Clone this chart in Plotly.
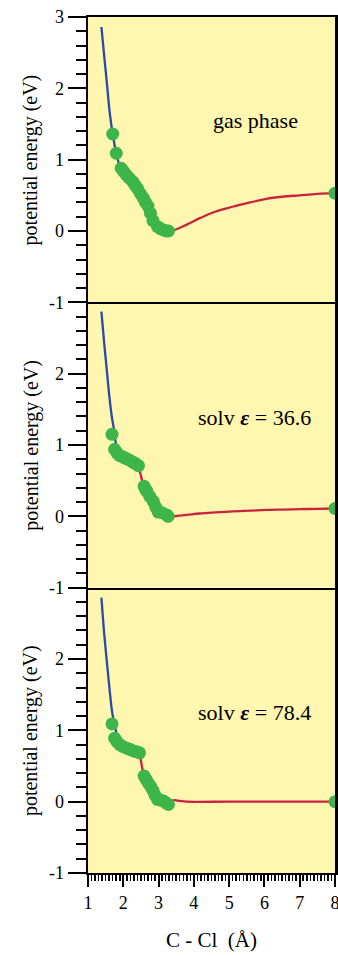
import plotly.graph_objects as go

# ---------------- data ----------------
# gas phase
gas_blue_x = [1.38, 1.46, 1.54, 1.62, 1.70, 1.80, 1.90]
gas_blue_y = [2.86, 2.45, 2.05, 1.64, 1.36, 1.09, 0.90]
gas_red_x = [3.28, 3.42, 3.80, 4.17, 4.60, 5.10, 5.60, 6.05, 6.50, 7.00, 7.50, 8.00]
gas_red_y = [0.00, 0.01, 0.09, 0.18, 0.27, 0.34, 0.40, 0.45, 0.48, 0.50, 0.52, 0.53]
gas_pts_x = [1.70, 1.80, 1.94, 2.00, 2.08, 2.17, 2.27, 2.34, 2.41, 2.49, 2.57, 2.63, 2.70,
             2.77, 2.84, 2.97, 3.06, 3.14, 3.22, 3.28, 8.00]
gas_pts_y = [1.36, 1.09, 0.88, 0.84, 0.79, 0.74, 0.69, 0.64, 0.59, 0.52, 0.46, 0.40, 0.35,
             0.25, 0.145, 0.06, 0.03, 0.014, 0.00, 0.00, 0.53]

# solvent eps = 36.6
s36_blue_x = [1.38, 1.46, 1.54, 1.61, 1.68, 1.73, 1.78, 1.85]
s36_blue_y = [2.87, 2.42, 2.01, 1.66, 1.38, 1.24, 1.05, 0.90]
s36_red_x = [2.43, 2.51, 2.59, 2.70, 2.84, 2.97, 3.10, 3.27, 3.42, 3.80, 4.17, 4.60, 5.10,
             5.60, 6.05, 6.50, 7.00, 7.50, 8.00]
s36_red_y = [0.71, 0.55, 0.40, 0.31, 0.21, 0.07, 0.03, 0.00, 0.00, 0.02, 0.04, 0.055, 0.07,
             0.08, 0.09, 0.095, 0.10, 0.105, 0.11]
s36_pts_x = [1.68, 1.755, 1.82, 1.90, 2.00, 2.08, 2.17, 2.27, 2.35, 2.43, 2.59, 2.63, 2.67,
             2.75, 2.85, 2.92, 2.99, 3.10, 3.23, 3.27, 8.00]
s36_pts_y = [1.15, 0.94, 0.89, 0.85, 0.83, 0.81, 0.79, 0.76, 0.74, 0.71, 0.42, 0.38, 0.35,
             0.28, 0.21, 0.13, 0.06, 0.05, 0.02, 0.00, 0.11]

# solvent eps = 78.4
s78_blue_x = [1.38, 1.46, 1.54, 1.61, 1.68, 1.73, 1.78, 1.85]
s78_blue_y = [2.86, 2.35, 1.93, 1.58, 1.27, 1.13, 1.02, 0.85]
s78_red_x = [2.46, 2.52, 2.59, 2.71, 2.84, 2.97, 3.14, 3.28, 3.42, 3.60, 3.80, 5.00, 6.00,
             7.00, 8.00]
s78_red_y = [0.685, 0.52, 0.36, 0.26, 0.16, 0.03, 0.01, -0.04, 0.02, 0.01, 0.00, 0.00, 0.00,
             0.00, 0.00]
s78_pts_x = [1.68, 1.755, 1.82, 1.90, 2.00, 2.10, 2.20, 2.29, 2.38, 2.46, 2.59, 2.65, 2.71,
             2.78, 2.84, 2.90, 2.97, 3.06, 3.14, 3.22, 3.28, 8.00]
s78_pts_y = [1.09, 0.89, 0.84, 0.80, 0.77, 0.75, 0.73, 0.71, 0.70, 0.685, 0.36, 0.31, 0.26,
             0.21, 0.16, 0.09, 0.03, 0.02, 0.01, -0.02, -0.04, 0.00]

panel_labels = ["gas phase", "solv <b><i>ε</i></b> = 36.6", "solv <b><i>ε</i></b> = 78.4"]
label_pos = [(5.75, 1.55), (5.72, 1.39), (5.72, 1.25)]
y_title = "potential energy (eV)"
x_title = "C - Cl  (Å)"

x_ticks = [1, 2, 3, 4, 5, 6, 7, 8]
y_ticks_top = [-1, 0, 1, 2, 3]
y_ticks_lower = [-1, 0, 1, 2]

# ---------------- style ----------------
BLUE = "#2a4aa8"
RED = "#c8243e"
GREEN = "#3db54a"
FILL = "#fff6b0"
FONT = "Liberation Serif"

panels = [
    (gas_blue_x, gas_blue_y, gas_red_x, gas_red_y, gas_pts_x, gas_pts_y),
    (s36_blue_x, s36_blue_y, s36_red_x, s36_red_y, s36_pts_x, s36_pts_y),
    (s78_blue_x, s78_blue_y, s78_red_x, s78_red_y, s78_pts_x, s78_pts_y),
]

fig = go.Figure()

W, H = 338, 956
ml, mr, mt, mb = 87.5, 2.5, 17, 83
pw = W - ml - mr
tot = H - mt - mb
ph = tot / 3.0

for i, (bx, by, rx, ry, px, py) in enumerate(panels):
    xa = "x" if i == 0 else f"x{i+1}"
    ya = "y" if i == 0 else f"y{i+1}"
    fig.add_trace(go.Scatter(x=bx, y=by, mode="lines", line=dict(color=BLUE, width=2.3, shape="spline"),
                             xaxis=xa, yaxis=ya, showlegend=False, hoverinfo="skip"))
    fig.add_trace(go.Scatter(x=rx, y=ry, mode="lines", line=dict(color=RED, width=2.3, shape="spline"),
                             xaxis=xa, yaxis=ya, showlegend=False, hoverinfo="skip"))
    fig.add_trace(go.Scatter(x=px, y=py, mode="markers", marker=dict(color=GREEN, size=13, line=dict(width=0)),
                             xaxis=xa, yaxis=ya, showlegend=False, cliponaxis=False))
    ax, ay = label_pos[i]
    fig.add_annotation(x=ax, y=ay, xref=xa, yref=ya, text=panel_labels[i], showarrow=False,
                       font=dict(family=FONT, size=22, color="black"))
    cy = 1 - (i * ph + ph / 2) / tot
    fig.add_annotation(x=(30 - ml) / pw, y=cy, xref="paper", yref="paper", text=y_title,
                       textangle=-90, showarrow=False, xanchor="center", yanchor="middle",
                       font=dict(family=FONT, size=20, color="black"))

fig.add_annotation(x=0.5, y=-(940 - 873) / tot, xref="paper", yref="paper", text=x_title,
                   showarrow=False, xanchor="center", yanchor="middle",
                   font=dict(family=FONT, size=21, color="black"))

layout = {}
for i in range(3):
    xk = "xaxis" if i == 0 else f"xaxis{i+1}"
    yk = "yaxis" if i == 0 else f"yaxis{i+1}"
    d1 = 1 - (i * ph) / tot
    d0 = 1 - ((i + 1) * ph) / tot
    ya_name = "y" if i == 0 else f"y{i+1}"
    bottom = (i == 2)
    xdict = dict(domain=[0, 1], anchor=ya_name, range=[1, 8], showline=True, mirror=(i == 0),
                 linecolor="black", linewidth=2, showgrid=False, zeroline=False,
                 tickvals=x_ticks, ticktext=[str(v) for v in x_ticks],
                 showticklabels=bottom, ticks="outside" if bottom else "",
                 ticklen=12, tickwidth=2, tickcolor="black", automargin=False,
                 ticklabeloverflow="allow",
                 tickfont=dict(family=FONT, size=18, color="black"))
    if bottom:
        xdict["minor"] = dict(dtick=0.1, tick0=1, ticks="outside", ticklen=6, tickwidth=1.5, tickcolor="black")
    if i > 0:
        xdict["matches"] = "x"
    layout[xk] = xdict
    yt = y_ticks_top if i == 0 else y_ticks_lower
    layout[yk] = dict(domain=[d0, d1], anchor="x" if i == 0 else f"x{i+1}", range=[-1, 3],
                      showline=True, mirror=True, linecolor="black", linewidth=2.5,
                      showgrid=False, zeroline=False, automargin=False,
                      ticklabeloverflow="allow",
                      tickvals=yt, ticktext=[str(v) for v in yt],
                      ticks="outside", ticklen=18, tickwidth=2, tickcolor="black",
                      minor=dict(dtick=0.2, tick0=-1, ticks="outside", ticklen=10, tickwidth=2, tickcolor="black"),
                      tickfont=dict(family=FONT, size=18, color="black"))

fig.update_layout(**layout)
fig.update_layout(width=W, height=H, margin=dict(l=ml, r=mr, t=mt, b=mb, autoexpand=False),
                  paper_bgcolor="white", plot_bgcolor=FILL, showlegend=False)

fig.write_html("out.html", config={"displayModeBar": False, "staticPlot": True},
               post_script="document.body.style.margin='0';document.body.style.padding='0';"
                           "document.documentElement.style.overflow='hidden';")
